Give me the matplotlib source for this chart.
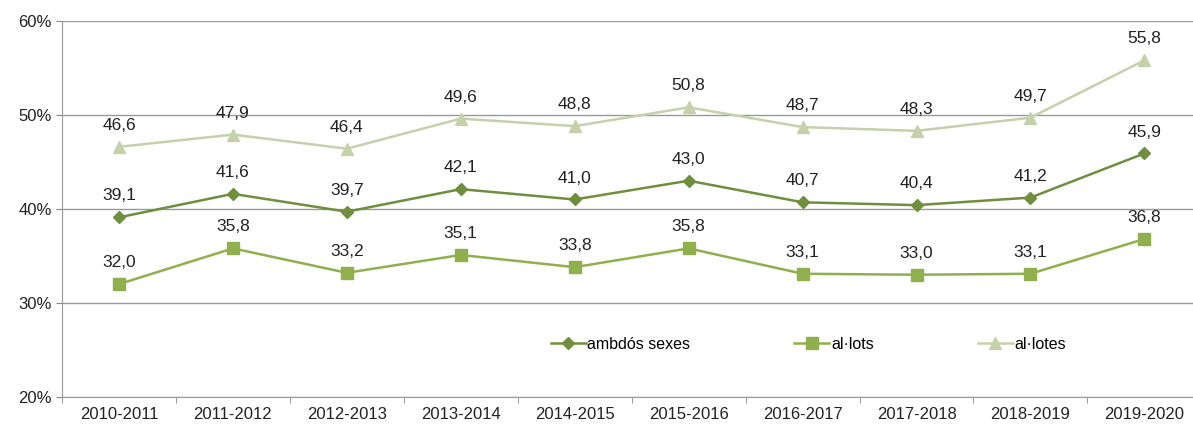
import matplotlib.pyplot as plt
import numpy as np

plt.rcParams["font.family"] = ["Liberation Sans", "DejaVu Sans"]

cursos = ["2010-2011", "2011-2012", "2012-2013", "2013-2014", "2014-2015",
          "2015-2016", "2016-2017", "2017-2018", "2018-2019", "2019-2020"]
ambdos = [39.1, 41.6, 39.7, 42.1, 41.0, 43.0, 40.7, 40.4, 41.2, 45.9]
allots = [32.0, 35.8, 33.2, 35.1, 33.8, 35.8, 33.1, 33.0, 33.1, 36.8]
allotes = [46.6, 47.9, 46.4, 49.6, 48.8, 50.8, 48.7, 48.3, 49.7, 55.8]

fig = plt.figure(figsize=(11.93, 4.25), dpi=100)
ax = fig.add_axes([0.052, 0.066, 0.955, 0.885])

x = np.arange(len(cursos))
series = [
    ("ambdós sexes", ambdos, "#6f8f3e", "D", 6),
    ("al·lots", allots, "#8fb04c", "s", 8),
    ("al·lotes", allotes, "#c5d1ab", "^", 8),
]
for nom, vals, col, mk, ms in series:
    ax.plot(x, vals, color=col, marker=mk, markersize=ms, linewidth=1.8, label=nom)
    for xi, v in zip(x, vals):
        ax.annotate(f"{v:.1f}".replace(".", ","), (xi, v), xytext=(0, 10),
                    textcoords="offset points", ha="center", va="bottom",
                    fontsize=12.5, color="#222222")

ax.set_xlim(-0.5, len(cursos) - 0.5)
ax.set_ylim(20, 60)
ax.set_yticks([20, 30, 40, 50, 60])
ax.set_yticklabels([f"{t}%" for t in [20, 30, 40, 50, 60]])
ax.set_xticks(x)
ax.set_xticklabels(cursos)
ax.set_xticks(np.arange(-0.5, len(cursos), 1), minor=True)
ax.tick_params(axis="x", which="major", length=0, pad=7, labelsize=12, colors="#222222")
ax.tick_params(axis="x", which="minor", length=4, color="#888888")
ax.tick_params(axis="y", length=4, color="#888888", labelsize=12, colors="#222222")
ax.yaxis.grid(True, color="#999999", linewidth=1)
ax.set_axisbelow(True)
for s in ["top", "right"]:
    ax.spines[s].set_visible(False)
for s in ["left", "bottom"]:
    ax.spines[s].set_color("#999999")

ax.legend(loc="center", bbox_to_anchor=(0.655, 0.14), ncol=3, frameon=False,
          fontsize=11.5, handlelength=2.2, columnspacing=6.5, handletextpad=0.1)

fig.savefig("out.png", dpi=100)
